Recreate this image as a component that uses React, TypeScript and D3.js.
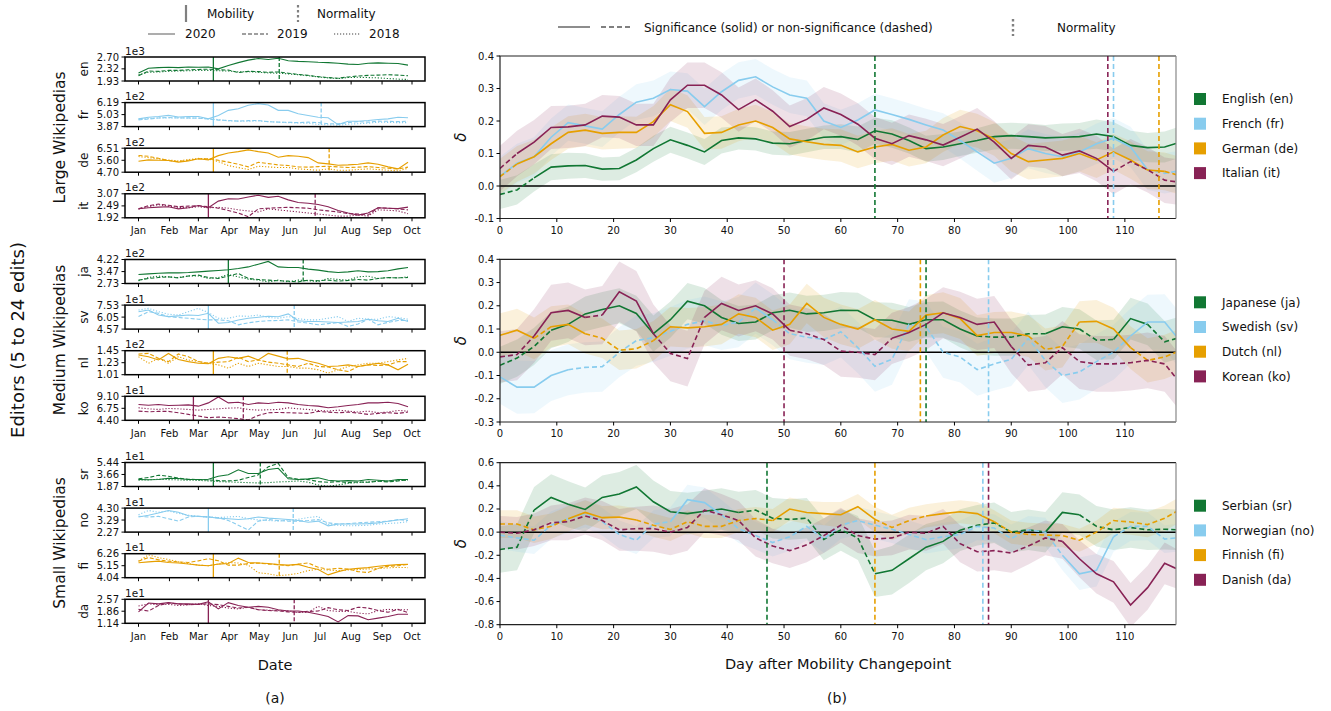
import React from "react";
import * as d3 from "d3";

const W = 1331;
const H = 711;
const FONT = "DejaVu Sans, Verdana, sans-serif";

const COLORS = ["#117733", "#88CCEE", "#E69F00", "#882255"];

// ---------- left: daily editors, 2018–2020 ----------
const MONTHS = ["Jan", "Feb", "Mar", "Apr", "May", "Jun", "Jul", "Aug", "Sep", "Oct"];
const SAMPLE_DAYS = [0, 10, 20, 30, 40, 50, 60, 70, 80, 90, 100, 110, 120, 130, 140, 150, 160, 170, 180, 190, 200, 210, 220, 230, 240, 250, 260, 270];

const WIKIS = ["en", "fr", "de", "it", "ja", "sv", "nl", "ko", "sr", "no", "fi", "da"];
const GROUP_NAMES = ["Large Wikipedias", "Medium Wikipedias", "Small Wikipedias"];
const EXPONENTS = ["1e3", "1e2", "1e2", "1e2", "1e2", "1e1", "1e2", "1e1", "1e1", "1e1", "1e1", "1e1"];
const Y_TICKS = [
  [1.93, 2.32, 2.7], [3.87, 5.03, 6.19], [4.7, 5.6, 6.51], [1.92, 2.49, 3.07],
  [2.73, 3.47, 4.22], [4.57, 6.05, 7.53], [1.01, 1.23, 1.45], [4.4, 6.75, 9.1],
  [1.87, 3.66, 5.44], [2.27, 3.29, 4.3], [4.04, 5.15, 6.26], [1.14, 1.86, 2.57],
];
// mobility changepoint [month index, day] and days until normality
const MOBILITY = [[2, 16], [2, 16], [2, 16], [2, 11], [2, 31], [2, 11], [2, 16], [1, 25], [2, 16], [2, 11], [2, 16], [2, 11]];
const NORMALITY = [66, 108, 116, 107, 75, 86, 74, 50, 47, 85, 66, 86];

const EN_2020 = [2.19, 2.34, 2.36, 2.37, 2.36, 2.38, 2.37, 2.38, 2.32, 2.43, 2.52, 2.6, 2.65, 2.62, 2.66, 2.58, 2.56, 2.55, 2.53, 2.52, 2.5, 2.47, 2.46, 2.5, 2.51, 2.5, 2.49, 2.44];
const EN_2019 = [2.1, 2.25, 2.24, 2.27, 2.27, 2.29, 2.3, 2.31, 2.29, 2.28, 2.2, 2.24, 2.23, 2.21, 2.22, 2.18, 2.14, 2.11, 2.07, 2.04, 2.02, 2.06, 2.09, 2.11, 2.12, 2.13, 2.12, 2.1];
const EN_2018 = [2.13, 2.21, 2.22, 2.24, 2.25, 2.26, 2.27, 2.27, 2.26, 2.25, 2.22, 2.23, 2.21, 2.19, 2.18, 2.16, 2.13, 2.1, 2.06, 2.03, 2.01, 2.04, 2.05, 2.04, 2.03, 2.01, 1.99, 1.98];
const FR_2020 = [4.62, 4.78, 4.85, 4.95, 4.8, 4.85, 4.85, 4.62, 4.95, 5.44, 5.6, 5.93, 6.09, 5.96, 5.44, 5.44, 5.11, 4.95, 4.78, 4.72, 4.06, 4.39, 4.39, 4.46, 4.56, 4.62, 4.78, 4.72];
const FR_2019 = [4.52, 4.6, 4.7, 4.75, 4.7, 4.72, 4.68, 4.6, 4.5, 4.46, 4.4, 4.45, 4.46, 4.35, 4.3, 4.29, 4.25, 4.3, 4.25, 4.15, 4.13, 4.25, 4.35, 4.3, 4.4, 4.38, 4.35, 4.39];
const FR_2018 = [4.6, 4.65, 4.72, 4.7, 4.72, 4.68, 4.7, 4.62, 4.55, 4.42, 4.4, 4.38, 4.42, 4.35, 4.3, 4.25, 4.22, 4.2, 4.08, 4.05, 4.0, 4.1, 4.15, 4.2, 4.3, 4.28, 4.25, 4.26];
const DE_2020 = [5.53, 5.63, 5.6, 5.58, 5.46, 5.55, 5.71, 5.63, 5.95, 6.15, 6.25, 6.38, 6.25, 6.15, 5.83, 5.95, 5.9, 5.8, 5.4, 5.33, 5.22, 5.25, 5.3, 5.4, 5.3, 5.1, 4.95, 5.45];
const DE_2019 = [5.96, 5.9, 5.75, 5.58, 5.5, 5.6, 5.7, 5.72, 5.6, 5.46, 5.3, 5.1, 5.45, 5.35, 5.25, 5.2, 5.1, 5.08, 5.12, 5.15, 5.1, 5.05, 5.08, 5.12, 5.05, 5.0, 4.95, 5.08];
const DE_2018 = [5.88, 5.8, 5.7, 5.62, 5.55, 5.65, 5.74, 5.7, 5.5, 5.2, 5.05, 4.9, 5.15, 5.1, 5.05, 5.05, 4.95, 4.9, 4.85, 4.95, 4.85, 4.85, 4.9, 4.95, 4.9, 4.85, 4.8, 5.0];
const IT_2020 = [2.35, 2.4, 2.43, 2.45, 2.35, 2.4, 2.51, 2.4, 2.72, 2.83, 2.82, 2.92, 3.0, 2.9, 2.95, 2.78, 2.65, 2.62, 2.56, 2.45, 2.27, 2.15, 2.05, 2.15, 2.4, 2.38, 2.36, 2.43];
const IT_2019 = [2.35, 2.5, 2.58, 2.52, 2.45, 2.48, 2.5, 2.45, 2.38, 2.27, 2.15, 1.97, 2.35, 2.38, 2.4, 2.42, 2.4, 2.38, 2.3, 2.25, 2.2, 2.12, 2.1, 2.05, 2.4, 2.38, 2.35, 2.3];
const IT_2018 = [2.33, 2.45, 2.55, 2.48, 2.42, 2.4, 2.45, 2.4, 2.42, 2.38, 2.3, 2.25, 2.2, 2.35, 2.3, 2.25, 2.2, 2.15, 2.1, 2.05, 2.0, 2.0, 2.05, 2.0, 2.3, 2.28, 2.25, 2.12];
const JA_2020 = [3.29, 3.33, 3.37, 3.39, 3.39, 3.41, 3.45, 3.5, 3.54, 3.58, 3.66, 3.76, 3.93, 4.1, 3.76, 3.72, 3.72, 3.62, 3.56, 3.47, 3.41, 3.45, 3.52, 3.45, 3.47, 3.52, 3.64, 3.72];
const JA_2019 = [2.94, 3.04, 3.1, 3.14, 3.08, 3.2, 3.25, 3.1, 3.04, 3.2, 3.35, 3.04, 2.98, 2.94, 2.9, 2.88, 2.83, 2.94, 2.9, 2.94, 2.88, 2.92, 2.98, 2.94, 3.04, 3.1, 3.08, 3.1];
const JA_2018 = [2.9, 3.1, 3.19, 3.14, 3.1, 3.19, 3.2, 3.04, 3.1, 3.28, 3.14, 3.0, 2.94, 2.83, 2.94, 2.83, 2.94, 2.9, 2.85, 3.04, 2.98, 2.94, 3.14, 3.19, 3.04, 3.1, 3.08, 3.14];
const SV_2020 = [6.72, 6.92, 6.31, 6.11, 6.2, 6.31, 6.25, 6.52, 5.3, 5.38, 5.7, 5.91, 6.03, 6.15, 6.1, 6.45, 5.6, 5.51, 5.51, 5.45, 5.38, 5.45, 5.51, 5.79, 5.6, 5.51, 5.91, 5.51];
const SV_2019 = [6.11, 6.72, 6.52, 6.11, 6.0, 5.9, 5.79, 5.71, 5.71, 5.6, 5.1, 5.35, 5.51, 5.6, 5.63, 5.71, 5.45, 5.3, 5.1, 5.25, 5.38, 4.9, 5.2, 5.79, 5.1, 5.4, 5.63, 5.63];
const SV_2018 = [6.92, 7.13, 6.72, 6.4, 6.31, 6.72, 7.13, 6.6, 5.91, 5.91, 6.19, 6.15, 6.31, 6.0, 5.91, 6.11, 5.85, 5.71, 5.71, 5.91, 6.11, 5.51, 5.91, 5.79, 5.79, 6.11, 6.0, 5.79];
const NL_2020 = [1.37, 1.34, 1.28, 1.4, 1.29, 1.25, 1.22, 1.21, 1.31, 1.34, 1.31, 1.35, 1.28, 1.4, 1.35, 1.3, 1.31, 1.26, 1.22, 1.16, 1.17, 1.19, 1.16, 1.19, 1.22, 1.19, 1.1, 1.2];
const NL_2019 = [1.39, 1.4, 1.31, 1.25, 1.39, 1.34, 1.25, 1.22, 1.24, 1.25, 1.33, 1.25, 1.28, 1.24, 1.22, 1.19, 1.16, 1.22, 1.16, 1.15, 1.1, 1.07, 1.16, 1.19, 1.18, 1.19, 1.25, 1.25];
const NL_2018 = [1.34, 1.22, 1.31, 1.22, 1.34, 1.28, 1.25, 1.22, 1.19, 1.13, 1.22, 1.16, 1.22, 1.19, 1.16, 1.16, 1.13, 1.13, 1.1, 1.04, 1.1, 1.16, 1.19, 1.22, 1.22, 1.25, 1.28, 1.31];
const KO_2020 = [7.49, 7.36, 7.49, 7.3, 7.36, 7.42, 7.17, 7.81, 8.97, 7.81, 7.94, 7.49, 7.81, 7.68, 7.94, 7.81, 7.49, 7.3, 7.17, 6.85, 7.04, 7.3, 7.49, 7.81, 7.81, 7.94, 7.68, 7.04];
const KO_2019 = [6.2, 6.07, 6.14, 6.14, 5.88, 5.56, 5.24, 4.91, 5.04, 4.91, 4.72, 4.46, 5.36, 5.88, 5.94, 5.88, 5.82, 5.75, 6.14, 6.01, 5.88, 6.01, 5.82, 5.56, 5.75, 5.88, 5.75, 6.01];
const KO_2018 = [6.85, 6.65, 6.52, 6.72, 6.65, 6.52, 6.4, 6.52, 6.65, 6.78, 6.85, 6.52, 6.4, 6.46, 6.52, 6.85, 6.65, 6.52, 6.33, 6.2, 6.4, 6.2, 6.01, 6.2, 5.88, 6.01, 6.33, 6.2];
const SR_2020 = [2.92, 2.87, 2.92, 3.1, 3.05, 2.92, 2.92, 2.95, 3.39, 3.63, 4.35, 3.8, 3.8, 4.4, 4.58, 3.01, 2.92, 3.01, 3.16, 2.8, 2.68, 2.75, 2.68, 2.92, 2.8, 2.68, 2.92, 2.92];
const SR_2019 = [3.01, 3.2, 3.55, 3.4, 3.1, 2.95, 2.9, 2.85, 2.75, 2.7, 2.8, 3.2, 3.6, 4.8, 5.3, 3.2, 2.95, 2.9, 2.6, 2.5, 2.6, 2.45, 2.55, 2.5, 2.65, 2.55, 2.7, 2.85];
const SR_2018 = [2.82, 2.85, 2.95, 2.9, 2.85, 2.8, 2.78, 2.7, 2.6, 2.55, 2.5, 2.45, 2.4, 2.45, 2.55, 2.6, 2.7, 2.5, 2.1, 1.9, 2.1, 2.35, 2.45, 2.55, 2.65, 2.7, 2.75, 2.8];
const NO_2020 = [3.55, 3.7, 3.88, 4.1, 3.95, 3.65, 3.6, 3.55, 3.45, 3.4, 3.33, 3.4, 3.55, 3.45, 3.4, 3.33, 3.25, 3.1, 3.2, 2.8, 2.95, 2.95, 2.95, 2.99, 3.05, 3.19, 3.3, 3.4];
const NO_2019 = [3.61, 3.55, 3.6, 3.4, 3.2, 3.55, 3.6, 3.55, 3.47, 3.25, 2.85, 2.45, 3.2, 3.33, 3.25, 3.2, 3.19, 3.25, 3.33, 3.05, 2.95, 2.99, 3.05, 3.1, 3.15, 3.19, 3.33, 3.25];
const NO_2018 = [3.74, 4.1, 3.95, 4.05, 3.85, 3.7, 3.6, 3.55, 3.5, 3.55, 3.6, 3.4, 3.3, 3.25, 3.19, 3.3, 3.35, 3.5, 3.6, 2.9, 2.85, 2.8, 2.82, 2.85, 2.95, 3.0, 3.05, 3.15];
const FI_2020 = [5.42, 5.5, 5.57, 5.45, 5.4, 5.3, 5.2, 5.15, 5.3, 5.35, 5.85, 5.45, 5.4, 5.35, 5.25, 5.2, 5.27, 5.0, 4.8, 4.3, 4.6, 4.82, 4.9, 4.97, 5.1, 5.18, 5.25, 5.27];
const FI_2019 = [5.57, 5.9, 5.7, 5.57, 5.5, 5.45, 5.6, 5.8, 5.6, 5.2, 5.2, 5.35, 5.4, 5.3, 5.25, 5.15, 5.3, 5.4, 5.0, 4.82, 4.9, 4.85, 4.6, 4.52, 4.9, 5.1, 5.15, 5.27];
const FI_2018 = [5.57, 6.15, 5.9, 5.72, 5.5, 5.35, 5.2, 5.15, 5.3, 5.45, 5.4, 5.2, 4.5, 4.4, 4.22, 4.3, 4.45, 4.7, 4.82, 4.75, 4.7, 4.75, 4.8, 4.85, 4.9, 4.95, 5.0, 4.97];
const DA_2020 = [1.82, 2.35, 2.3, 2.37, 2.3, 2.3, 2.27, 2.42, 2.0, 2.37, 2.2, 2.1, 2.15, 2.1, 1.95, 1.87, 1.87, 1.8, 1.68, 1.55, 1.22, 1.6, 1.58, 1.35, 1.45, 1.55, 1.68, 1.68];
const DA_2019 = [1.97, 1.87, 2.2, 2.35, 2.3, 2.25, 2.27, 2.3, 2.25, 2.15, 2.05, 2.1, 1.95, 1.9, 1.88, 1.82, 1.8, 1.85, 1.87, 2.07, 1.95, 1.9, 2.1, 2.05, 1.9, 1.8, 1.97, 1.78];
const DA_2018 = [2.17, 2.3, 2.25, 2.27, 2.2, 2.25, 2.3, 2.2, 2.15, 2.05, 2.0, 2.1, 1.95, 1.92, 1.9, 1.88, 1.78, 1.8, 2.15, 1.9, 1.85, 1.85, 1.75, 1.7, 1.9, 1.97, 1.95, 1.95];

const EDITORS = [
  [EN_2020, EN_2019, EN_2018], [FR_2020, FR_2019, FR_2018], [DE_2020, DE_2019, DE_2018], [IT_2020, IT_2019, IT_2018],
  [JA_2020, JA_2019, JA_2018], [SV_2020, SV_2019, SV_2018], [NL_2020, NL_2019, NL_2018], [KO_2020, KO_2019, KO_2018],
  [SR_2020, SR_2019, SR_2018], [NO_2020, NO_2019, NO_2018], [FI_2020, FI_2019, FI_2018], [DA_2020, DA_2019, DA_2018],
];
const YEAR_DASH = ["", "4,2", "1.2,1.8"];

// ---------- right: effect size after mobility changepoint ----------
const DAYS = [0, 3, 6, 9, 12, 15, 18, 21, 24, 27, 30, 33, 36, 39, 42, 45, 48, 51, 54, 57, 60, 63, 66, 69, 72, 75, 78, 81, 84, 87, 90, 93, 96, 99, 102, 105, 108, 111, 114, 117, 119];
const LANG_LABELS = [
  "English (en)", "French (fr)", "German (de)", "Italian (it)",
  "Japanese (ja)", "Swedish (sv)", "Dutch (nl)", "Korean (ko)",
  "Serbian (sr)", "Norwegian (no)", "Finnish (fi)", "Danish (da)",
];

const DELTA_EN = [-0.026, -0.012, 0.025, 0.058, 0.062, 0.063, 0.052, 0.054, 0.08, 0.115, 0.142, 0.125, 0.105, 0.14, 0.148, 0.145, 0.132, 0.13, 0.14, 0.15, 0.152, 0.143, 0.17, 0.16, 0.14, 0.115, 0.12, 0.13, 0.14, 0.152, 0.155, 0.152, 0.148, 0.15, 0.152, 0.16, 0.152, 0.125, 0.118, 0.12, 0.131];
const DELTA_FR = [0.03, 0.07, 0.09, 0.15, 0.195, 0.185, 0.175, 0.22, 0.258, 0.27, 0.297, 0.292, 0.244, 0.29, 0.325, 0.336, 0.305, 0.28, 0.27, 0.2, 0.18, 0.203, 0.234, 0.22, 0.205, 0.188, 0.172, 0.14, 0.105, 0.07, 0.085, 0.115, 0.1, 0.09, 0.105, 0.13, 0.147, 0.12, 0.05, 0.039, 0.045];
const DELTA_DE = [0.029, 0.068, 0.09, 0.13, 0.165, 0.172, 0.162, 0.165, 0.165, 0.198, 0.25, 0.229, 0.162, 0.165, 0.188, 0.2, 0.18, 0.145, 0.136, 0.128, 0.125, 0.105, 0.12, 0.128, 0.11, 0.12, 0.157, 0.183, 0.17, 0.145, 0.1, 0.075, 0.08, 0.085, 0.1, 0.08, 0.105, 0.08, 0.049, 0.045, 0.035];
const DELTA_IT = [0.054, 0.1, 0.135, 0.18, 0.182, 0.188, 0.215, 0.212, 0.188, 0.188, 0.265, 0.31, 0.31, 0.28, 0.235, 0.265, 0.23, 0.183, 0.205, 0.24, 0.22, 0.19, 0.147, 0.13, 0.155, 0.142, 0.126, 0.15, 0.175, 0.135, 0.085, 0.125, 0.12, 0.095, 0.108, 0.085, 0.045, 0.075, 0.05, 0.018, 0.013];
const DELTA_JA = [-0.056, -0.025, 0.025, 0.095, 0.12, 0.165, 0.184, 0.2, 0.167, 0.08, 0.14, 0.22, 0.2, 0.15, 0.124, 0.13, 0.17, 0.181, 0.165, 0.17, 0.181, 0.18, 0.14, 0.138, 0.12, 0.14, 0.14, 0.1, 0.07, 0.065, 0.065, 0.08, 0.08, 0.11, 0.1, 0.052, 0.055, 0.145, 0.12, 0.045, 0.059];
const DELTA_SV = [-0.106, -0.15, -0.15, -0.1, -0.075, -0.065, -0.062, 0.0, 0.05, 0.063, 0.09, 0.12, 0.135, 0.115, 0.13, 0.19, 0.14, 0.08, 0.065, 0.055, 0.088, 0.02, -0.06, -0.03, 0.12, 0.11, 0.0, -0.02, -0.075, -0.05, -0.03, 0.06, -0.035, -0.1, -0.085, -0.04, 0.0, 0.07, 0.13, 0.13, 0.07];
const DELTA_NL = [0.073, 0.095, 0.06, 0.11, 0.12, 0.08, 0.06, 0.009, 0.015, 0.05, 0.11, 0.105, 0.11, 0.12, 0.165, 0.15, 0.095, 0.12, 0.21, 0.15, 0.12, 0.1, 0.14, 0.1, 0.09, 0.16, 0.17, 0.145, 0.072, 0.085, 0.085, 0.07, 0.012, 0.025, 0.13, 0.133, 0.1, 0.02, -0.035, -0.02, 0.0];
const DELTA_KO = [-0.02, -0.01, 0.07, 0.17, 0.18, 0.15, 0.16, 0.26, 0.22, 0.08, -0.005, -0.027, 0.15, 0.21, 0.18, 0.2, 0.165, 0.095, 0.08, 0.055, 0.005, 0.0, -0.01, 0.06, 0.085, 0.12, 0.17, 0.15, 0.12, 0.13, 0.025, -0.055, -0.045, 0.02, -0.04, -0.05, -0.05, -0.045, -0.035, -0.05, -0.11];
const DELTA_SR = [-0.15, -0.13, 0.19, 0.3, 0.24, 0.196, 0.3, 0.33, 0.39, 0.262, 0.176, 0.16, 0.18, 0.2, 0.17, 0.19, 0.12, 0.11, 0.12, -0.063, 0.02, -0.05, -0.36, -0.33, -0.23, -0.13, -0.08, 0.017, 0.06, 0.08, 0.0, 0.02, 0.0, 0.17, 0.15, 0.05, 0.02, 0.04, 0.02, 0.025, 0.02];
const DELTA_NO = [-0.026, -0.05, -0.07, 0.06, 0.115, 0.16, 0.09, -0.02, -0.07, 0.07, 0.09, 0.28, 0.255, 0.15, 0.03, -0.03, -0.09, -0.04, 0.05, -0.06, 0.06, 0.1, 0.06, 0.025, -0.02, -0.065, -0.04, -0.02, 0.05, 0.035, -0.055, 0.02, 0.0, -0.2, -0.36, -0.33, -0.04, 0.05, 0.05, -0.06, -0.05];
const DELTA_FI = [0.07, 0.07, 0.02, 0.05, 0.115, 0.17, 0.125, 0.13, 0.105, 0.06, 0.023, 0.09, 0.05, 0.05, 0.1, 0.118, 0.1, 0.2, 0.17, 0.16, 0.15, 0.22, 0.11, 0.04, 0.1, 0.14, 0.16, 0.176, 0.16, 0.09, 0.0, -0.02, -0.025, -0.03, -0.07, 0.0, 0.1, 0.088, 0.065, 0.12, 0.176];
const DELTA_DA = [0.0, -0.01, 0.02, 0.08, 0.09, 0.14, 0.1, 0.02, 0.03, 0.03, 0.0, 0.04, 0.19, 0.15, 0.1, -0.05, -0.12, -0.16, -0.11, -0.03, 0.06, -0.03, -0.06, -0.05, 0.0, -0.01, 0.05, -0.1, -0.17, -0.16, -0.18, -0.12, -0.05, -0.08, -0.23, -0.36, -0.43, -0.63, -0.48, -0.27, -0.314];

// half-width of the shaded confidence band
const BAND_EN = [0.045, 0.045, 0.042, 0.04, 0.04, 0.038, 0.036, 0.036, 0.038, 0.04, 0.04, 0.04, 0.04, 0.04, 0.036, 0.036, 0.036, 0.036, 0.036, 0.036, 0.038, 0.04, 0.04, 0.042, 0.04, 0.04, 0.04, 0.038, 0.038, 0.04, 0.04, 0.04, 0.04, 0.042, 0.042, 0.045, 0.045, 0.045, 0.045, 0.048, 0.048];
const BAND_FR = [0.06, 0.06, 0.06, 0.058, 0.056, 0.055, 0.055, 0.055, 0.055, 0.055, 0.055, 0.055, 0.056, 0.056, 0.056, 0.055, 0.055, 0.055, 0.055, 0.055, 0.055, 0.052, 0.05, 0.05, 0.05, 0.05, 0.052, 0.055, 0.058, 0.06, 0.06, 0.06, 0.06, 0.06, 0.06, 0.062, 0.062, 0.062, 0.062, 0.062, 0.062];
const BAND_DE = [0.055, 0.055, 0.052, 0.05, 0.05, 0.05, 0.05, 0.05, 0.048, 0.048, 0.05, 0.05, 0.05, 0.05, 0.05, 0.05, 0.048, 0.048, 0.048, 0.048, 0.05, 0.05, 0.05, 0.05, 0.05, 0.05, 0.052, 0.052, 0.052, 0.052, 0.055, 0.055, 0.055, 0.055, 0.055, 0.055, 0.055, 0.058, 0.058, 0.058, 0.058];
const BAND_IT = [0.07, 0.07, 0.068, 0.066, 0.065, 0.065, 0.065, 0.065, 0.065, 0.065, 0.068, 0.07, 0.07, 0.07, 0.068, 0.066, 0.065, 0.065, 0.065, 0.065, 0.065, 0.065, 0.065, 0.065, 0.065, 0.065, 0.065, 0.065, 0.065, 0.065, 0.065, 0.065, 0.065, 0.065, 0.068, 0.07, 0.07, 0.07, 0.07, 0.07, 0.07];
const BAND_JA = [0.08, 0.08, 0.08, 0.078, 0.076, 0.075, 0.075, 0.075, 0.076, 0.078, 0.078, 0.078, 0.076, 0.075, 0.075, 0.075, 0.075, 0.076, 0.078, 0.078, 0.078, 0.076, 0.075, 0.075, 0.075, 0.076, 0.078, 0.08, 0.08, 0.08, 0.08, 0.08, 0.082, 0.085, 0.085, 0.085, 0.085, 0.09, 0.09, 0.09, 0.09];
const BAND_SV = [0.115, 0.115, 0.112, 0.11, 0.11, 0.108, 0.108, 0.108, 0.108, 0.105, 0.105, 0.105, 0.105, 0.105, 0.108, 0.11, 0.11, 0.11, 0.11, 0.11, 0.11, 0.11, 0.11, 0.11, 0.108, 0.108, 0.11, 0.11, 0.112, 0.115, 0.115, 0.115, 0.115, 0.118, 0.118, 0.118, 0.118, 0.118, 0.118, 0.12, 0.12];
const BAND_NL = [0.095, 0.092, 0.09, 0.088, 0.085, 0.085, 0.085, 0.085, 0.085, 0.085, 0.085, 0.085, 0.085, 0.085, 0.085, 0.085, 0.085, 0.085, 0.085, 0.085, 0.085, 0.085, 0.085, 0.085, 0.085, 0.085, 0.088, 0.088, 0.088, 0.088, 0.09, 0.09, 0.09, 0.09, 0.09, 0.092, 0.092, 0.092, 0.095, 0.095, 0.095];
const BAND_KO = [0.11, 0.11, 0.115, 0.12, 0.12, 0.12, 0.125, 0.13, 0.13, 0.125, 0.12, 0.12, 0.115, 0.115, 0.112, 0.11, 0.11, 0.11, 0.11, 0.11, 0.11, 0.11, 0.11, 0.11, 0.11, 0.11, 0.11, 0.11, 0.11, 0.112, 0.115, 0.115, 0.115, 0.115, 0.118, 0.12, 0.12, 0.12, 0.12, 0.12, 0.12];
const BAND_SR = [0.2, 0.2, 0.2, 0.2, 0.2, 0.19, 0.19, 0.19, 0.19, 0.185, 0.18, 0.18, 0.18, 0.18, 0.18, 0.175, 0.175, 0.175, 0.175, 0.18, 0.18, 0.19, 0.2, 0.21, 0.21, 0.2, 0.19, 0.18, 0.175, 0.175, 0.175, 0.175, 0.175, 0.175, 0.175, 0.175, 0.175, 0.175, 0.175, 0.175, 0.175];
const BAND_NO = [0.12, 0.12, 0.12, 0.12, 0.12, 0.12, 0.12, 0.12, 0.12, 0.12, 0.125, 0.13, 0.13, 0.13, 0.125, 0.12, 0.12, 0.12, 0.12, 0.12, 0.12, 0.12, 0.12, 0.12, 0.12, 0.12, 0.12, 0.12, 0.12, 0.12, 0.12, 0.12, 0.125, 0.13, 0.14, 0.14, 0.13, 0.125, 0.12, 0.12, 0.12];
const BAND_FI = [0.12, 0.12, 0.115, 0.11, 0.11, 0.105, 0.1, 0.1, 0.1, 0.1, 0.1, 0.1, 0.1, 0.1, 0.1, 0.1, 0.1, 0.1, 0.1, 0.1, 0.11, 0.11, 0.11, 0.11, 0.11, 0.1, 0.1, 0.1, 0.1, 0.1, 0.1, 0.1, 0.1, 0.1, 0.1, 0.1, 0.11, 0.11, 0.11, 0.11, 0.11];
const BAND_DA = [0.14, 0.14, 0.14, 0.15, 0.16, 0.16, 0.17, 0.18, 0.19, 0.2, 0.2, 0.2, 0.19, 0.18, 0.17, 0.16, 0.15, 0.15, 0.15, 0.15, 0.15, 0.15, 0.15, 0.15, 0.15, 0.15, 0.15, 0.16, 0.17, 0.17, 0.17, 0.16, 0.15, 0.15, 0.16, 0.17, 0.18, 0.19, 0.19, 0.18, 0.17];

// day ranges where the effect is not significant (dashed)
const NONSIG_EN = [[0, 5]];
const NONSIG_FR = [[114, 119]];
const NONSIG_DE = [[0, 2], [116, 119]];
const NONSIG_IT = [[0, 2], [107, 119]];
const NONSIG_JA = [[0, 9], [83, 97], [102, 109], [115, 119]];
const NONSIG_SV = [[13, 44], [47, 112]];
const NONSIG_NL = [[5, 8], [14, 27], [93, 101], [110, 119]];
const NONSIG_KO = [[0, 7], [16, 18], [27, 35], [50, 70], [89, 119]];
const NONSIG_SR = [[0, 6], [41, 66], [80, 97], [102, 119]];
const NONSIG_NO = [[0, 30], [40, 99], [109, 119]];
const NONSIG_FI = [[0, 12], [23, 49], [66, 76], [86, 119]];
const NONSIG_DA = [[0, 100]];

const DELTAS = [DELTA_EN, DELTA_FR, DELTA_DE, DELTA_IT, DELTA_JA, DELTA_SV, DELTA_NL, DELTA_KO, DELTA_SR, DELTA_NO, DELTA_FI, DELTA_DA];
const BANDS = [BAND_EN, BAND_FR, BAND_DE, BAND_IT, BAND_JA, BAND_SV, BAND_NL, BAND_KO, BAND_SR, BAND_NO, BAND_FI, BAND_DA];
const NONSIG = [NONSIG_EN, NONSIG_FR, NONSIG_DE, NONSIG_IT, NONSIG_JA, NONSIG_SV, NONSIG_NL, NONSIG_KO, NONSIG_SR, NONSIG_NO, NONSIG_FI, NONSIG_DA];

const RIGHT_DOMAINS = [[-0.1, 0.4], [-0.3, 0.4], [-0.8, 0.6]];
const RIGHT_TICKS = [
  [-0.1, 0, 0.1, 0.2, 0.3, 0.4],
  [-0.3, -0.2, -0.1, 0, 0.1, 0.2, 0.3, 0.4],
  [-0.8, -0.6, -0.4, -0.2, 0, 0.2, 0.4, 0.6],
];
const X_TICKS = [0, 10, 20, 30, 40, 50, 60, 70, 80, 90, 100, 110];

// ---------- layout ----------
const L_X0 = 125;
const L_X1 = 425;
const GROUP_TOP = [57, 259.5, 462.5];
const PANEL_STEP = 45.6;
const PANEL_H = 24;

const R_X0 = 500;
const R_X1 = 1176;
const R_TOP = [56, 259.3, 462.7];
const R_BOTTOM = [218.5, 422, 624.7];

const GRAY = "#808080";

function splitBySignificance(vals: number[], ranges: number[][]) {
  const runs: { dashed: boolean; pts: [number, number][] }[] = [];
  let cur: { dashed: boolean; pts: [number, number][] } | null = null;
  for (let i = 0; i < DAYS.length - 1; i++) {
    const mid = (DAYS[i] + DAYS[i + 1]) / 2;
    const dashed = ranges.some(([a, b]) => mid >= a && mid <= b);
    if (!cur || cur.dashed !== dashed) {
      cur = { dashed, pts: [[DAYS[i], vals[i]]] };
      runs.push(cur);
    }
    cur.pts.push([DAYS[i + 1], vals[i + 1]]);
  }
  return runs;
}

function LeftPanel({ k }: { k: number }) {
  const g = Math.floor(k / 4);
  const row = k % 4;
  const top = GROUP_TOP[g] + row * PANEL_STEP;
  const bottom = top + PANEL_H;
  const color = COLORS[row];
  const ticks = Y_TICKS[k];
  const x = d3.scaleTime().domain([new Date(2020, 0, 1), new Date(2020, 9, 1)]).range([138.5, 412]);
  const y = d3.scaleLinear().domain([ticks[0], ticks[2]]).range([bottom, top]);
  const line = d3.line<number>()
    .x((_, i) => x(new Date(2020, 0, 1 + SAMPLE_DAYS[i])))
    .y((v) => y(v));
  const mob = new Date(2020, MOBILITY[k][0], MOBILITY[k][1]);
  const norm = new Date(2020, MOBILITY[k][0], MOBILITY[k][1] + NORMALITY[k]);
  const clipId = `lclip${k}`;
  return (
    <g>
      <clipPath id={clipId}>
        <rect x={L_X0} y={top} width={L_X1 - L_X0} height={PANEL_H} />
      </clipPath>
      <g clipPath={`url(#${clipId})`}>
        {EDITORS[k].map((series, yi) => (
          <path key={yi} d={line(series) || ""} fill="none" stroke={color} strokeWidth={1.1}
            strokeDasharray={YEAR_DASH[yi]} />
        ))}
        <line x1={x(mob)} x2={x(mob)} y1={top} y2={bottom} stroke={color} strokeWidth={1.3} />
        <line x1={x(norm)} x2={x(norm)} y1={top} y2={bottom} stroke={color} strokeWidth={1.3} strokeDasharray="4,2" />
      </g>
      <rect x={L_X0} y={top} width={L_X1 - L_X0} height={PANEL_H} fill="none" stroke="#000" strokeWidth={1.5} />
      {ticks.map((t) => (
        <g key={t}>
          <line x1={L_X0 - 3.5} x2={L_X0} y1={y(t)} y2={y(t)} stroke="#000" strokeWidth={1} />
          <text x={L_X0 - 6} y={y(t)} dy="0.35em" textAnchor="end" fontSize={10} fill="#111">{t.toFixed(2)}</text>
        </g>
      ))}
      {MONTHS.map((m, i) => (
        <line key={m} x1={x(new Date(2020, i, 1))} x2={x(new Date(2020, i, 1))} y1={bottom} y2={bottom + 3.5} stroke="#000" strokeWidth={1} />
      ))}
      {row === 3 && MONTHS.map((m, i) => (
        <text key={m} x={x(new Date(2020, i, 1))} y={bottom + 16.5} textAnchor="middle" fontSize={10} fill="#111">{m}</text>
      ))}
      <text x={L_X0} y={top - 2.5} fontSize={10.5} fill="#111">{EXPONENTS[k]}</text>
      <text transform={`translate(${84},${(top + bottom) / 2}) rotate(-90)`} textAnchor="middle" dy="0.35em" fontSize={12} fill="#111">{WIKIS[k]}</text>
    </g>
  );
}

function RightPanel({ g }: { g: number }) {
  const top = R_TOP[g];
  const bottom = R_BOTTOM[g];
  const x = d3.scaleLinear().domain([0, 119]).range([R_X0, R_X1]);
  const y = d3.scaleLinear().domain(RIGHT_DOMAINS[g]).range([bottom, top]);
  const idx = [0, 1, 2, 3].map((r) => g * 4 + r);
  const area = d3.area<number>()
    .x((_, i) => x(DAYS[i]));
  const line = d3.line<[number, number]>().x((d) => x(d[0])).y((d) => y(d[1]));
  const clipId = `rclip${g}`;
  return (
    <g>
      <clipPath id={clipId}>
        <rect x={R_X0} y={top} width={R_X1 - R_X0} height={bottom - top} />
      </clipPath>
      <g clipPath={`url(#${clipId})`}>
        {idx.map((k, r) => {
          const vals = DELTAS[k];
          const hw = BANDS[k];
          const a = area.y0((_, i) => y(vals[i] - hw[i])).y1((_, i) => y(vals[i] + hw[i]));
          return <path key={k} d={a(vals) || ""} fill={COLORS[r]} fillOpacity={0.14} stroke="none" />;
        })}
        <line x1={R_X0} x2={R_X1} y1={y(0)} y2={y(0)} stroke="#000" strokeWidth={1.5} />
        {idx.map((k, r) =>
          splitBySignificance(DELTAS[k], NONSIG[k]).map((run, j) => (
            <path key={`${k}-${j}`} d={line(run.pts) || ""} fill="none" stroke={COLORS[r]} strokeWidth={1.6}
              strokeDasharray={run.dashed ? "5,3" : ""} />
          ))
        )}
        {idx.map((k, r) => (
          <line key={`n${k}`} x1={x(NORMALITY[k])} x2={x(NORMALITY[k])} y1={top} y2={bottom}
            stroke={COLORS[r]} strokeWidth={1.6} strokeDasharray="5,3" />
        ))}
      </g>
      <path d={`M${R_X1},${top}H${R_X0}V${bottom}H${R_X1}`} fill="none" stroke="#222" strokeWidth={1.2} />
      <line x1={R_X1} x2={R_X1} y1={top} y2={bottom} stroke="#888" strokeWidth={1.2} />
      {RIGHT_TICKS[g].map((t) => (
        <g key={t}>
          <line x1={R_X0 - 3.5} x2={R_X0} y1={y(t)} y2={y(t)} stroke="#000" />
          <text x={R_X0 - 6} y={y(t)} dy="0.35em" textAnchor="end" fontSize={10} fill="#111">{t.toFixed(1)}</text>
        </g>
      ))}
      {X_TICKS.map((t) => (
        <g key={t}>
          <line x1={x(t)} x2={x(t)} y1={bottom} y2={bottom + 3.5} stroke="#000" />
          <text x={x(t)} y={bottom + 15} textAnchor="middle" fontSize={10} fill="#111">{t}</text>
        </g>
      ))}
      <text transform={`translate(${461},${(top + bottom) / 2}) rotate(-90)`} textAnchor="middle" dy="0.35em"
        fontSize={15} fontStyle="italic" fill="#111">δ</text>
      {idx.map((k, r) => (
        <g key={`lg${k}`}>
          <rect x={1194} y={top + 37 + r * 24.7} width={12} height={12} fill={COLORS[r]} />
          <text x={1222} y={top + 43 + r * 24.7} dy="0.35em" fontSize={12} fill="#111">{LANG_LABELS[k]}</text>
        </g>
      ))}
    </g>
  );
}

export default function App() {
  return (
    <svg width={W} height={H} viewBox={`0 0 ${W} ${H}`}
      style={{ position: "absolute", left: 0, top: 0, background: "#fff" }} fontFamily={FONT}>
      {/* left legend */}
      <line x1={186} x2={186} y1={5} y2={22} stroke={GRAY} strokeWidth={2.2} />
      <text x={207} y={14} dy="0.35em" fontSize={12} fill="#111">Mobility</text>
      <line x1={298} x2={298} y1={5} y2={22} stroke={GRAY} strokeWidth={2.2} strokeDasharray="2.5,2.5" />
      <text x={317} y={14} dy="0.35em" fontSize={12} fill="#111">Normality</text>
      <line x1={148} x2={175} y1={34} y2={34} stroke={GRAY} strokeWidth={1.3} />
      <text x={185} y={34} dy="0.35em" fontSize={12} fill="#111">2020</text>
      <line x1={242} x2={268} y1={34} y2={34} stroke={GRAY} strokeWidth={1.3} strokeDasharray="4,2" />
      <text x={277} y={34} dy="0.35em" fontSize={12} fill="#111">2019</text>
      <line x1={334} x2={360} y1={34} y2={34} stroke={GRAY} strokeWidth={1.3} strokeDasharray="1.2,1.8" />
      <text x={369} y={34} dy="0.35em" fontSize={12} fill="#111">2018</text>

      {/* right legend */}
      <line x1={558} x2={590} y1={27} y2={27} stroke={GRAY} strokeWidth={1.8} />
      <line x1={601} x2={632} y1={27} y2={27} stroke={GRAY} strokeWidth={1.8} strokeDasharray="5,3" />
      <text x={644} y={28} dy="0.35em" fontSize={12} fill="#111">Significance (solid) or non-significance (dashed)</text>
      <line x1={1013} x2={1013} y1={19} y2={36} stroke={GRAY} strokeWidth={2.4} strokeDasharray="2.5,2.5" />
      <text x={1057} y={28} dy="0.35em" fontSize={12} fill="#111">Normality</text>

      {WIKIS.map((_, k) => <LeftPanel key={k} k={k} />)}
      {GROUP_NAMES.map((name, g) => {
        const mid = (GROUP_TOP[g] + GROUP_TOP[g] + 3 * PANEL_STEP + PANEL_H) / 2;
        return (
          <text key={name} transform={`translate(${60},${mid}) rotate(-90)`} textAnchor="middle" dy="0.35em"
            fontSize={15.5} fill="#111">{name}</text>
        );
      })}
      <text transform={`translate(${18},${340}) rotate(-90)`} textAnchor="middle" dy="0.35em" fontSize={18} fill="#111">
        Editors (5 to 24 edits)
      </text>
      <text x={275} y={665} dy="0.35em" textAnchor="middle" fontSize={14.5} fill="#111">Date</text>
      <text x={275} y={698} dy="0.35em" textAnchor="middle" fontSize={14} fill="#111">(a)</text>

      {[0, 1, 2].map((g) => <RightPanel key={g} g={g} />)}
      <text x={838} y={664} dy="0.35em" textAnchor="middle" fontSize={14.5} fill="#111">Day after Mobility Changepoint</text>
      <text x={837} y={698} dy="0.35em" textAnchor="middle" fontSize={14} fill="#111">(b)</text>
    </svg>
  );
}
